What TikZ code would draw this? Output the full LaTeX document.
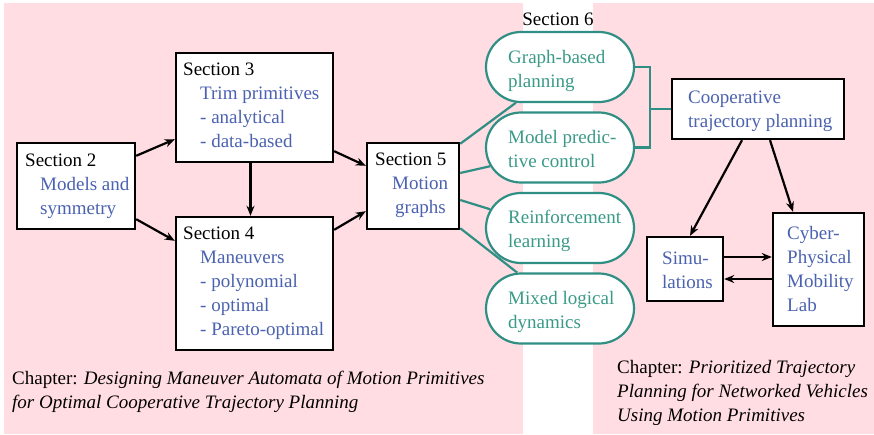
\documentclass[tikz,border=0pt]{standalone}
\usepackage{fontspec}
\setmainfont{Liberation Serif}
\usetikzlibrary{arrows.meta,shapes.misc,calc}
\definecolor{bgpink}{HTML}{FFDDE2}
\definecolor{sblue}{HTML}{4B62B0}
\definecolor{steal}{HTML}{2F8F85}
\definecolor{ttext}{HTML}{3A9A88}
\begin{document}
\begin{tikzpicture}[x=1pt,y=-1pt,
  box/.style={draw=black,line width=2.4pt,fill=white,inner sep=0pt},
  pill/.style={rounded rectangle,draw=steal,line width=2.2pt,fill=white,inner sep=0pt,minimum width=148pt,minimum height=70pt},
  txt/.style={anchor=north west,inner sep=0pt,align=left,font=\fontsize{19}{24}\selectfont},
  arr/.style={line width=2.2pt,-{Stealth[length=10pt,width=8pt]}},
  tl/.style={draw=steal,line width=2.2pt}]
\useasboundingbox (0,0) rectangle (874,434);
\fill[bgpink] (4,3) rectangle (523,434);
\fill[bgpink] (593,3) rectangle (874,434);

% boxes
\node[box,minimum width=118pt,minimum height=86pt] (s2) at (76,186) {};
\node[box,minimum width=157pt,minimum height=109pt] (s3) at (254.5,107.5) {};
\node[box,minimum width=157pt,minimum height=133pt] (s4) at (254.5,283.5) {};
\node[box,minimum width=92pt,minimum height=86pt] (s5) at (413,186) {};
\node[box,minimum width=172pt,minimum height=60pt] (coop) at (758,109) {};
\node[box,minimum width=76pt,minimum height=64pt] (sim) at (685,269) {};
\node[box,minimum width=91pt,minimum height=113pt] (cpm) at (818.5,269.5) {};

% pills
\node[pill] (gb) at (560,67) {};
\node[pill] (mp) at (560,147.5) {};
\node[pill] (rl) at (560,228) {};
\node[pill] (ml) at (560,308.5) {};

% texts
\node[txt] (s2t) at (25,154) {Section 2\\\hspace*{15pt}\textcolor{sblue}{Models and}\\\hspace*{15pt}\textcolor{sblue}{symmetry}};
\node[txt] (s3t) at (183,63) {Section 3\\\hspace*{17pt}\textcolor{sblue}{Trim primitives}\\\hspace*{17pt}\textcolor{sblue}{- analytical}\\\hspace*{17pt}\textcolor{sblue}{- data-based}};
\node[txt] (s4t) at (183,227) {Section 4\\\hspace*{17pt}\textcolor{sblue}{Maneuvers}\\\hspace*{17pt}\textcolor{sblue}{- polynomial}\\\hspace*{17pt}\textcolor{sblue}{- optimal}\\\hspace*{17pt}\textcolor{sblue}{- Pareto-optimal}};
\node[txt] (s5t) at (375,153) {Section 5\\\hspace*{17pt}\textcolor{sblue}{Motion}\\\hspace*{20pt}\textcolor{sblue}{graphs}};
\node[txt,text=sblue] (coopt) at (688,91) {Cooperative\\trajectory planning};
\node[txt,text=sblue] (simt) at (662,252) {Simu-\\lations};
\node[txt,text=sblue] (cpmt) at (787,226) {Cyber-\\Physical\\Mobility\\Lab};
\node[txt,text=ttext] (gbt) at (508,50) {Graph-based\\planning};
\node[txt,text=ttext] (mpt) at (508,130) {Model predic-\\tive control};
\node[txt,text=ttext] (rlt) at (508,210) {Reinforcement\\learning};
\node[txt,text=ttext] (mlt) at (508,291) {Mixed logical\\dynamics};
\node[font=\fontsize{19}{24}\selectfont,inner sep=0pt] (s6) at (558,19) {Section 6};
\node[txt] (ch1) at (12,371) {Chapter: \textit{Designing Maneuver Automata of Motion Primitives}\\\textit{for Optimal Cooperative Trajectory Planning}};
\node[txt] (ch2) at (617,360) {Chapter: \textit{Prioritized Trajectory}\\\textit{Planning for Networked Vehicles}\\\textit{Using Motion Primitives}};

% black arrows
\draw[arr] ($(s2.north east)+(0,14)$) -- ($(s3.south west)+(0,-24)$);
\draw[arr] ($(s2.south east)+(0,-11)$) -- ($(s4.north west)+(0,25)$);
\draw[arr] ($(s3.south)+(-4,0)$) -- ($(s4.north)+(-4,0)$);
\draw[arr] ($(s3.south east)+(0,-12)$) -- ($(s5.north west)+(0,24)$);
\draw[arr] ($(s4.north east)+(0,14)$) -- ($(s5.south west)+(0,-19)$);
\draw[arr] ($(coop.south)+(-16,0)$) -- ($(sim.north)+(5,0)$);
\draw[arr] ($(coop.south)+(12,0)$) -- ($(cpm.north)+(-25.5,0)$);
\coordinate (a1) at ($(sim.east)+(0,-12)$);
\coordinate (a2) at ($(cpm.west)+(0,9.5)$);
\draw[arr] (a1) -- (a1 -| cpm.west);
\draw[arr] (a2) -- (a2 -| sim.east);

% teal connectors
\draw[tl] ($(s5.north east)+(0,2)$) -- (gb.219);
\draw[tl] ($(s5.east)+(0,-13)$) -- (mp.195);
\draw[tl] ($(s5.east)+(0,14)$) -- (rl.165);
\draw[tl] ($(s5.south east)+(0,-2)$) -- (ml.140);
\draw[tl] (gb.east) -- ++(15,0) coordinate (br) |- (mp.east);
\draw[tl] (coop.west) -- (coop.west -| br);
\end{tikzpicture}
\end{document}
